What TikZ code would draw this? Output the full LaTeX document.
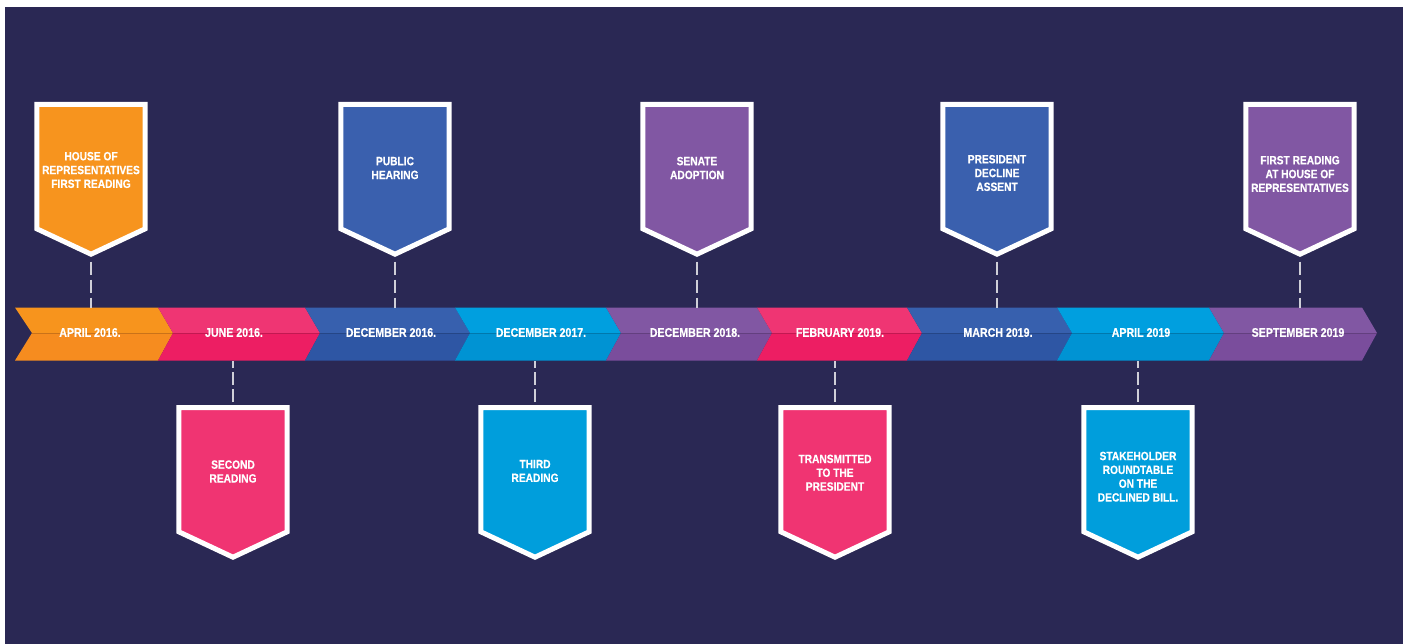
\documentclass[tikz,border=0pt]{standalone}
\usepackage{fontspec}
\newfontfamily\cond{Liberation Sans}[FakeStretch=0.85, BoldFeatures={FakeBold=0.4}]
\definecolor{bg}{HTML}{2A2854}
\definecolor{orT}{HTML}{F7941D}\definecolor{orB}{HTML}{F68C1F}\definecolor{orF}{HTML}{F7941E}
\definecolor{pkT}{HTML}{EF3573}\definecolor{pkB}{HTML}{ED1E63}\definecolor{pkF}{HTML}{F03472}
\definecolor{blT}{HTML}{3760AE}\definecolor{blB}{HTML}{2E56A4}\definecolor{blF}{HTML}{3A60AE}
\definecolor{cyT}{HTML}{009FDF}\definecolor{cyB}{HTML}{0093D3}\definecolor{cyF}{HTML}{009EDC}
\definecolor{puT}{HTML}{8157A3}\definecolor{puB}{HTML}{7A4D9C}\definecolor{puF}{HTML}{8157A3}
\definecolor{dashgray}{HTML}{CFCFD8}
\tikzset{
  calltext/.style={text=white, align=center, font=\cond\bfseries\fontsize{12}{13.8}\selectfont, inner sep=0pt},
  datetext/.style={text=white, font=\cond\bfseries\fontsize{12.5}{14}\selectfont, inner sep=0pt},
  callbox/.style={draw=white, line width=5pt, line join=miter, fill=#1},
  dashtop/.style={draw=dashgray, line width=2.2pt, dash pattern=on 13pt off 5pt, dash phase=13.3pt},
  dashbot/.style={draw=dashgray, line width=2.2pt, dash pattern=on 13pt off 4pt, dash phase=14pt},
}
\begin{document}
\begin{tikzpicture}[x=1pt,y=-1pt]
\useasboundingbox (0,0) rectangle (1410,644);
\fill[white] (0,0) rectangle (1410,644);
\fill[bg] (5,7) rectangle (1403,644);
% timeline band
\foreach \a/\b/\c/\n in {15/158/or/17, 158/305/pk/15, 305/455/bl/15, 455/606/cy/15, 606/757/pu/15, 757/907/pk/15, 907/1057/bl/15, 1057/1209/cy/15, 1209/1362/pu/15}{
  \fill[\c T] (\a,307.5) -- (\b,307.5) -- (\b+15,333) -- (\a+\n,333) -- cycle;
  \fill[\c B] (\a+\n,333) -- (\b+15,333) -- (\b,360.5) -- (\a,360.5) -- cycle;
}
\draw[black, opacity=0.18, line width=0.8pt] (32,333) -- (1377,333);
% date labels
\foreach \x/\t/\nm in {90/APRIL 2016./d1, 234/JUNE 2016./d2, 391/DECEMBER 2016./d3, 541/DECEMBER 2017./d4, 695/DECEMBER 2018./d5, 840/FEBRUARY 2019./d6, 998/MARCH 2019./d7, 1141/APRIL 2019/d8, 1298/SEPTEMBER 2019/d9}{
  \node[datetext] (\nm) at (\x,332.5) {\t};
}
% top callouts
\foreach \cx/\c/\nm in {91/or/1, 395/bl/3, 697/pu/5, 997/bl/7, 1300/pu/9}{
  \draw[callbox=\c F] (\cx-54.2,104.5) -- (\cx+54.2,104.5) -- (\cx+54.2,228.8) -- (\cx,254.2) -- (\cx-54.2,228.8) -- cycle;
  \coordinate (tip\nm) at (\cx,257);
  \coordinate (band\nm) at (\cx,307.5);
  \draw[dashtop] (tip\nm) -- (band\nm);
}
% bottom callouts
\foreach \cx/\c/\nm in {233/pk/2, 535/cy/4, 835/pk/6, 1138/cy/8}{
  \draw[callbox=\c F] (\cx-54.2,407.5) -- (\cx+54.2,407.5) -- (\cx+54.2,531.8) -- (\cx,557.2) -- (\cx-54.2,531.8) -- cycle;
  \coordinate (top\nm) at (\cx,405);
  \coordinate (band\nm) at (\cx,360.5);
  \draw[dashbot] (top\nm) -- (band\nm);
}
% callout texts
\node[calltext] (c1) at (91,170) {HOUSE OF\\REPRESENTATIVES\\FIRST READING};
\node[calltext] (c3) at (395,168) {PUBLIC\\HEARING};
\node[calltext] (c5) at (697,168) {SENATE\\ADOPTION};
\node[calltext] (c7) at (997,173) {PRESIDENT\\DECLINE\\ASSENT};
\node[calltext] (c9) at (1300,174) {FIRST READING\\AT HOUSE OF\\REPRESENTATIVES};
\node[calltext] (c2) at (233,471.5) {SECOND\\READING};
\node[calltext] (c4) at (535,471) {THIRD\\READING};
\node[calltext] (c6) at (835,472.7) {TRANSMITTED\\TO THE\\PRESIDENT};
\node[calltext] (c8) at (1138,476.7) {STAKEHOLDER\\ROUNDTABLE\\ON THE\\DECLINED BILL.};
\end{tikzpicture}
\end{document}
